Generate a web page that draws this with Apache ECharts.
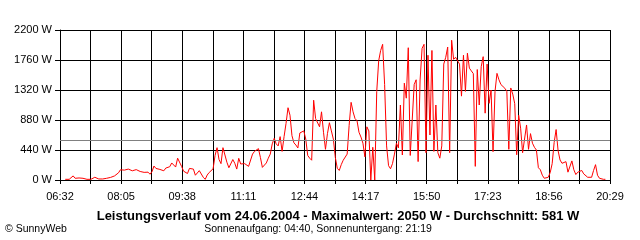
<!DOCTYPE html>
<html><head><meta charset="utf-8">
<script src="https://cdn.jsdelivr.net/npm/echarts@6/dist/echarts.min.js"></script>
<style>html,body{margin:0;padding:0;background:#fff}#c{width:640px;height:240px}</style>
</head><body><div id="c"></div>
<script>
// ---- data ----
const xTickLabels = ['06:32','08:05','09:38','11:11','12:44','14:17','15:50','17:23','18:56','20:29'];
const yTickValues = [0, 440, 880, 1320, 1760, 2200];
const firstSample = '06:40';
const sampleStepMin = 3;
const watts = [
  10,10,10,15,60,25,10,30,40,25,
  10,10,10,10,15,40,25,15,15,15,
  20,25,30,38,48,60,75,105,150,140,
  145,165,160,145,135,122,152,132,125,130,
  112,112,115,85,122,205,170,180,155,160,
  135,175,181,195,250,270,190,320,342,200,
  130,140,95,170,160,160,70,73,137,142,
  40,10,73,110,120,165,360,474,300,240,
  474,450,260,180,200,300,245,160,318,235,
  259,240,220,200,215,380,420,430,460,330,
  185,196,250,320,380,530,611,530,500,636,
  420,636,830,1060,950,650,545,513,470,690,
  690,720,600,360,320,290,1170,900,900,780,
  1000,700,450,680,840,720,600,330,171,140,
  225,290,308,380,800,1139,1000,900,870,700,
  630,540,340,780,720,0,480,0,1296,1750,
  1900,1990,1400,500,210,165,240,380,540,470,
  1100,367,1420,1200,1940,360,380,1400,1470,270,
  1467,1930,1990,400,1830,660,1900,420,1100,400,
  320,500,1700,1800,1950,400,2050,1770,1800,1790,
  1700,1230,1830,1300,1860,1640,1600,1560,200,1620,
  1100,1662,1809,980,1700,1124,1320,416,1296,1564,
  1470,1400,1385,1345,1300,450,1350,1260,1120,370,
  950,760,400,420,807,450,680,540,480,440,
  180,150,70,25,0,40,110,240,550,740,
  430,293,245,270,269,115,95,280,150,80,
  115,100,140,90,64,40,30,40,140,225,
  70,25,20,10,10
];
const averageW = 581;
const titleText = 'Leistungsverlauf vom 24.06.2004 - Maximalwert: 2050 W - Durchschnitt: 581 W';
const subText = 'Sonnenaufgang: 04:40, Sonnenuntergang: 21:19';
const copyrightText = '\u00a9 SunnyWeb';

// ---- build ----
function toMin(s){ const p = s.split(':'); return (+p[0])*60 + (+p[1]); }
const axisStart = toMin(xTickLabels[0]);
const axisSpan = toMin(xTickLabels[xTickLabels.length-1]) - axisStart;
const labelStep = toMin(xTickLabels[1]) - toMin(xTickLabels[0]);
const gridStep = labelStep / 2;
const t0 = toMin(firstSample) - axisStart;
const seriesData = watts.map((w, i) => [t0 + i*sampleStepMin, w]);

const FONT = 'Liberation Sans';
const chart = echarts.init(document.getElementById('c'), null, {renderer: 'canvas'});
chart.setOption({
  animation: false,
  backgroundColor: '#fff',
  grid: {left: 60, top: 30, width: 550, height: 150, containLabel: false},
  xAxis: {
    type: 'value', min: 0, max: axisSpan, interval: gridStep,
    axisLine: {show: true, lineStyle: {color: '#000', width: 1}},
    axisTick: {show: true, length: 4, lineStyle: {color: '#000'}},
    splitLine: {show: true, lineStyle: {color: '#000', width: 1}},
    axisLabel: {
      show: true, margin: 11, color: '#000', fontFamily: FONT, fontSize: 11,
      showMinLabel: true, showMaxLabel: true,
      formatter: function(v){ const k = Math.round(v / gridStep); return (k % 2 === 0) ? (xTickLabels[k/2] || '') : ''; }
    }
  },
  yAxis: {
    type: 'value', min: yTickValues[0], max: yTickValues[yTickValues.length-1],
    interval: yTickValues[1] - yTickValues[0],
    axisLine: {show: true, lineStyle: {color: '#000', width: 1}},
    axisTick: {show: true, length: 5, lineStyle: {color: '#000'}},
    splitLine: {show: true, lineStyle: {color: '#000', width: 1}},
    axisLabel: {margin: 8, color: '#000', fontFamily: FONT, fontSize: 11,
      formatter: function(v){ return String(Math.round(v)) + ' W'; }}
  },
  series: [{
    type: 'line', data: seriesData, showSymbol: false, symbol: 'none',
    lineStyle: {color: '#ff0000', width: 1}, itemStyle: {color: '#ff0000'},
    markLine: {
      silent: true, symbol: 'none', label: {show: false},
      lineStyle: {color: '#808080', width: 1, type: 'solid'},
      data: [{yAxis: averageW}]
    },
    z: 3
  }],
  graphic: [
    {type: 'text', x: 338, y: 216, style: {text: titleText, fill: '#000', font: 'bold 13px ' + FONT, textAlign: 'center', textVerticalAlign: 'middle'}},
    {type: 'text', x: 318, y: 229, style: {text: subText, fill: '#000', font: '10.5px ' + FONT, textAlign: 'center', textVerticalAlign: 'middle'}},
    {type: 'text', x: 5, y: 229, style: {text: copyrightText, fill: '#000', font: '10.5px ' + FONT, textAlign: 'left', textVerticalAlign: 'middle'}}
  ]
});
</script>
</body></html>
